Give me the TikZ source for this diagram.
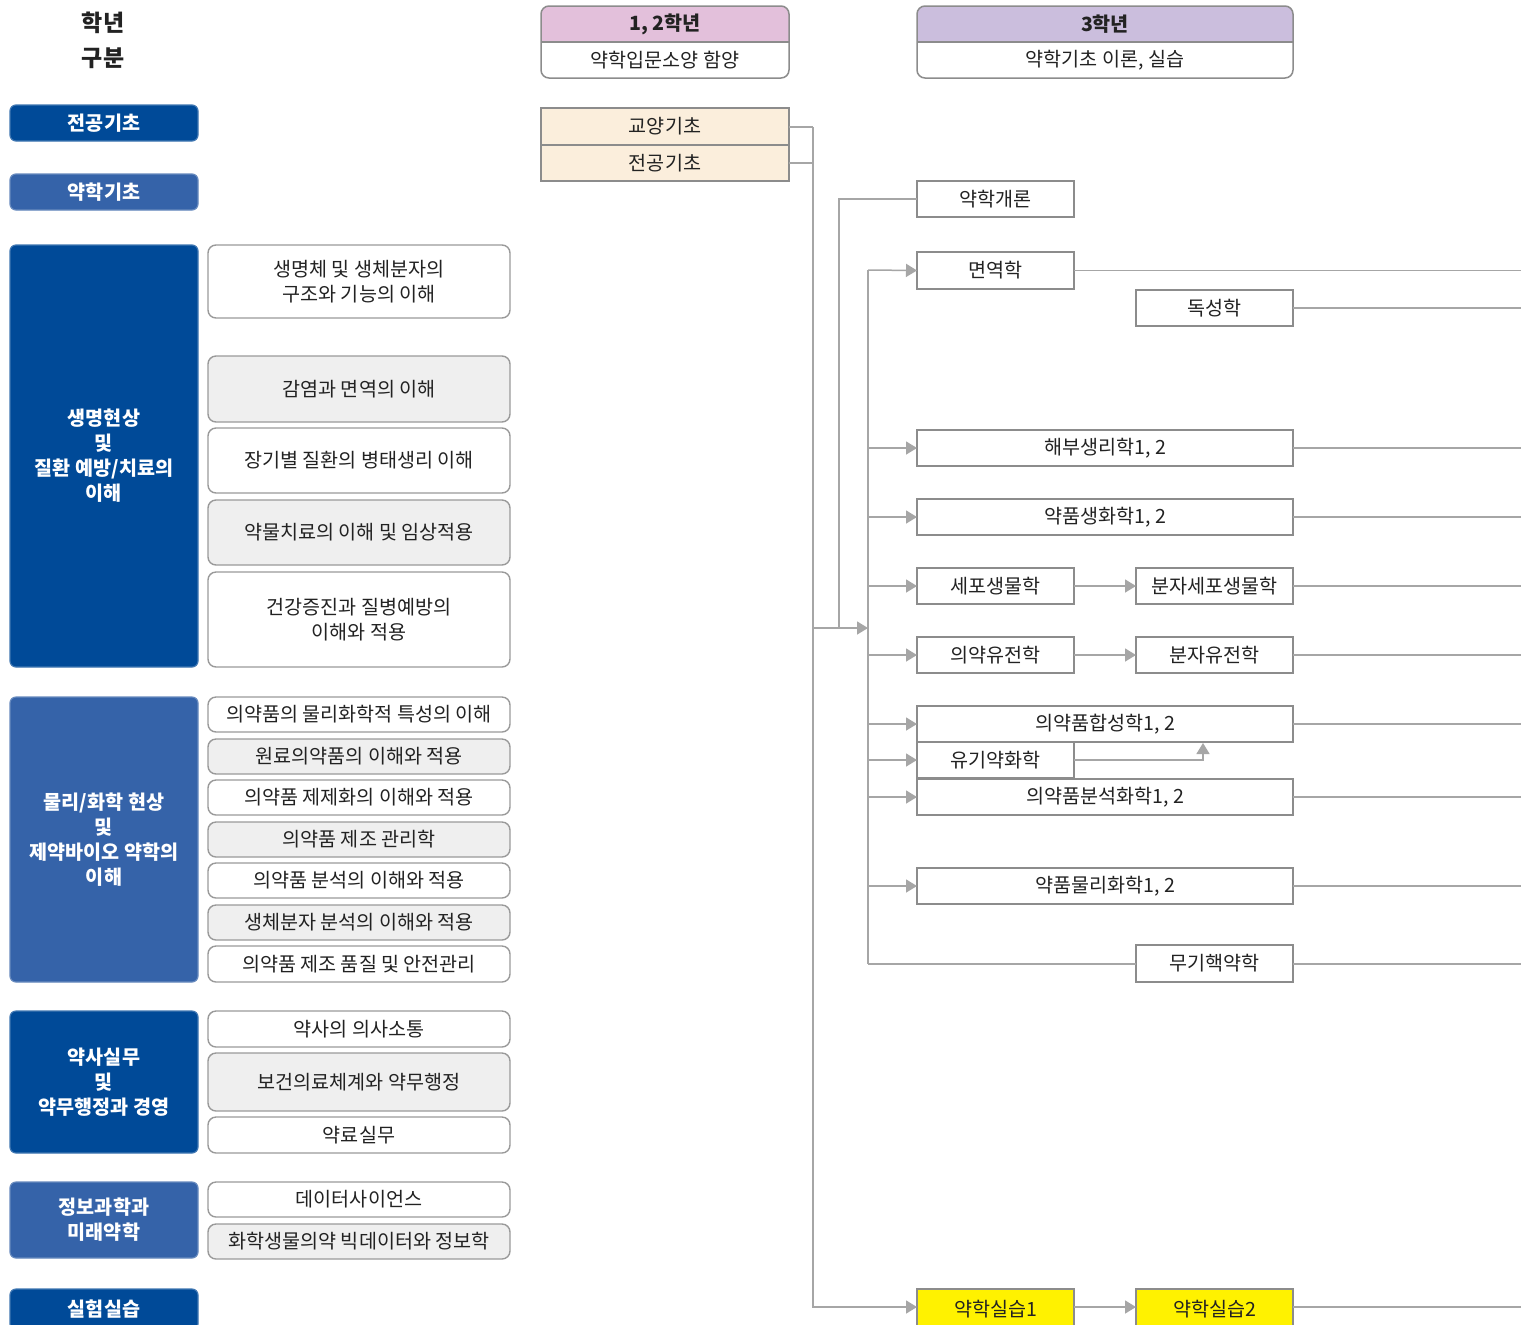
\documentclass[tikz,border=0pt]{standalone}
\usepackage{fontspec}
\setmainfont{Noto Sans CJK KR}
\usetikzlibrary{arrows.meta}
\definecolor{bdark}{HTML}{004A98}
\definecolor{blight}{HTML}{3563A9}
\definecolor{subgray}{HTML}{EFEFEF}
\definecolor{subline}{HTML}{9A9A9A}
\definecolor{crsline}{HTML}{8C8C8C}
\definecolor{conncol}{HTML}{A6A6A6}
\definecolor{pinkhdr}{HTML}{E3C0DB}
\definecolor{lavhdr}{HTML}{CBBEDD}
\definecolor{beige}{HTML}{FBEEDC}
\definecolor{yel}{HTML}{FFF200}
\definecolor{txt}{HTML}{222222}
\newcommand{\fs}{\fontsize{9.8}{12.5}\selectfont}
\newcommand{\bx}[7]{\node[#2, minimum width={(#5-#3)*0.5pt}, minimum height={(#6-#4)*0.5pt}] (#1) at ({(#3+#5)/2},{(#4+#6)/2}) {#7};}
\tikzset{
  base/.style={inner sep=0pt, outer sep=0pt, align=center, font=\fs, text=txt},
  catd/.style={base, rounded corners=3pt, fill=bdark, draw=bdark!75!white, line width=0.6pt, text=white, font=\fs\bfseries},
  catl/.style={catd, fill=blight, draw=blight!75!white},
  sub/.style={base, rounded corners=4pt, draw=subline, fill=white, line width=0.7pt},
  subg/.style={sub, fill=subgray},
  crs/.style={base, draw=crsline, fill=white, line width=0.75pt},
  crsy/.style={crs, fill=yel},
  crsb/.style={crs, fill=beige},
  conn/.style={draw=conncol, line width=0.75pt},
  arr/.style={conn, -{Triangle[length=5.5pt,width=6.5pt,fill=conncol]}}
}
\begin{document}
\begin{tikzpicture}[x=0.5pt,y=-0.5pt]
\useasboundingbox (0,0) rectangle (1521,1324);
\fill[white] (0,0) rectangle (1521,1324);
% headers
\node[base, font=\fontsize{11.5}{13}\selectfont\bfseries] (hak) at (103,23) {학년};
\node[base, font=\fontsize{11.5}{13}\selectfont\bfseries] (gub) at (103,58) {구분};
\begin{scope}
\clip[rounded corners=4pt] (541,6) rectangle (789,78);
\bx{h12}{base, fill=pinkhdr, font=\fs\bfseries}{541}{6}{789}{42}{1, 2학년}
\bx{h12b}{base, fill=white}{541}{42}{789}{78}{약학입문소양 함양}
\end{scope}
\draw[crsline, line width=0.75pt, rounded corners=4pt] (541,6) rectangle (789,78);
\draw[crsline, line width=0.75pt] (h12.south west) -- (h12.south east);
\begin{scope}
\clip[rounded corners=4pt] (917,6) rectangle (1293,78);
\bx{h3}{base, fill=lavhdr, font=\fs\bfseries}{917}{6}{1293}{42}{3학년}
\bx{h3b}{base, fill=white}{917}{42}{1293}{78}{약학기초 이론, 실습}
\end{scope}
\draw[crsline, line width=0.75pt, rounded corners=4pt] (917,6) rectangle (1293,78);
\draw[crsline, line width=0.75pt] (h3.south west) -- (h3.south east);
% left categories
\bx{c1}{catd}{10}{105}{198}{141}{전공기초}
\bx{c2}{catl}{10}{174}{198}{210}{약학기초}
\bx{c3}{catd}{10}{245}{198}{667}{생명현상\\및\\질환 예방/치료의\\이해}
\bx{c4}{catl}{10}{697}{198}{982}{물리/화학 현상\\및\\제약바이오 약학의\\이해}
\bx{c5}{catd}{10}{1011}{198}{1153}{약사실무\\및\\약무행정과 경영}
\bx{c6}{catl}{10}{1182}{198}{1258}{정보과학과\\미래약학}
\bx{c7}{catd}{10}{1289}{198}{1330}{실험실습}
% sub items
\bx{s1}{sub}{208}{245}{510}{318}{생명체 및 생체분자의\\구조와 기능의 이해}
\bx{s2}{subg}{208}{356}{510}{422}{감염과 면역의 이해}
\bx{s3}{sub}{208}{428}{510}{493}{장기별 질환의 병태생리 이해}
\bx{s4}{subg}{208}{500}{510}{565}{약물치료의 이해 및 임상적용}
\bx{s5}{sub}{208}{572}{510}{667}{건강증진과 질병예방의\\이해와 적용}
\bx{s6}{sub}{208}{697}{510}{732}{의약품의 물리화학적 특성의 이해}
\bx{s7}{subg}{208}{739}{510}{774}{원료의약품의 이해와 적용}
\bx{s8}{sub}{208}{780}{510}{815}{의약품 제제화의 이해와 적용}
\bx{s9}{subg}{208}{822}{510}{857}{의약품 제조 관리학}
\bx{s10}{sub}{208}{863}{510}{898}{의약품 분석의 이해와 적용}
\bx{s11}{subg}{208}{905}{510}{940}{생체분자 분석의 이해와 적용}
\bx{s12}{sub}{208}{946}{510}{982}{의약품 제조 품질 및 안전관리}
\bx{s13}{sub}{208}{1011}{510}{1047}{약사의 의사소통}
\bx{s14}{subg}{208}{1053}{510}{1111}{보건의료체계와 약무행정}
\bx{s15}{sub}{208}{1117}{510}{1153}{약료실무}
\bx{s16}{sub}{208}{1182}{510}{1217}{데이터사이언스}
\bx{s17}{subg}{208}{1224}{510}{1259}{화학생물의약 빅데이터와 정보학}
% 1,2 grade
\bx{kyo}{crsb}{541}{108}{789}{145}{교양기초}
\bx{jgo}{crsb}{541}{145}{789}{181}{전공기초}
% 3rd grade courses
\bx{gae}{crs}{917}{181}{1074}{217}{약학개론}
\bx{myeon}{crs}{917}{252}{1074}{289}{면역학}
\bx{dok}{crs}{1136}{290}{1293}{326}{독성학}
\bx{haebu}{crs}{917}{430}{1293}{466}{해부생리학1, 2}
\bx{saeng}{crs}{917}{499}{1293}{535}{약품생화학1, 2}
\bx{sepo}{crs}{917}{568}{1074}{604}{세포생물학}
\bx{bunse}{crs}{1136}{568}{1293}{604}{분자세포생물학}
\bx{yujeon}{crs}{917}{637}{1074}{673}{의약유전학}
\bx{bunyu}{crs}{1136}{637}{1293}{673}{분자유전학}
\bx{hap}{crs}{917}{706}{1293}{742}{의약품합성학1, 2}
\bx{yugi}{crs}{917}{742}{1074}{778}{유기약화학}
\bx{bunseok}{crs}{917}{779}{1293}{815}{의약품분석화학1, 2}
\bx{mulli}{crs}{917}{868}{1293}{904}{약품물리화학1, 2}
\bx{mugi}{crs}{1136}{945}{1293}{982}{무기핵약학}
\bx{sil1}{crsy}{917}{1289}{1074}{1330}{약학실습1}
\bx{sil2}{crsy}{1136}{1289}{1293}{1330}{약학실습2}
% connectors
\coordinate (tTop) at (813,127);
\coordinate (tMid) at (813,628);
\coordinate (gMid) at (839,628);
\coordinate (bMid) at (868,628);
\coordinate (bTop) at (868,270);
\coordinate (bBot) at (868,964);
\coordinate (R) at (1521,0);
\coordinate (hs) at (1203,743);
\coordinate (s1y) at (0,1307);
\draw[conn] (kyo.east |- tTop) -- (tTop);
\draw[conn] (jgo.east) -- (jgo.east -| tTop);
\draw[arr] (tTop) |- (sil1.west |- s1y);
\draw[arr] (tMid) -- (bMid);
\draw[conn] (gae.west) -| (gMid);
\draw[conn] (bTop) -- (bBot);
\draw[arr] (bTop) -- (myeon.west);
\foreach \n in {haebu,saeng,sepo,yujeon,bunseok,mulli}
  \draw[arr] (\n.west -| bTop) -- (\n.west);
\draw[arr] (bTop |- 0,724) -- (hap.west |- 0,724);
\draw[arr] (yugi.west -| bTop) -- (yugi.west);
\draw[conn] (bBot) -- (mugi.west |- bBot);
\draw[arr] (sepo.east) -- (bunse.west);
\draw[arr] (yujeon.east) -- (bunyu.west);
\draw[arr] (sil1.east |- s1y) -- (sil2.west |- s1y);
\draw[arr] (yugi.east) -| (hs);
\foreach \n in {myeon,dok,haebu,saeng,bunse,bunyu,hap,bunseok,mulli}
  \draw[conn] (\n.east) -- (\n.east -| R);
\draw[conn] (mugi.east |- bBot) -- (R |- bBot);
\draw[conn] (sil2.east |- s1y) -- (R |- s1y);
\end{tikzpicture}
\end{document}
